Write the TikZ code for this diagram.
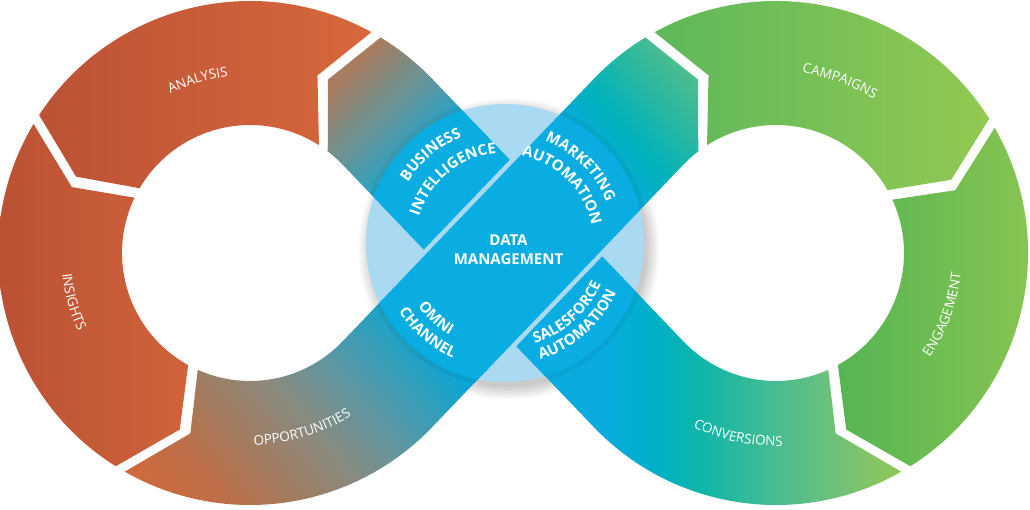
\documentclass[tikz,border=0pt]{standalone}
\usepackage{fontspec}
\setmainfont{Open Sans}
\usetikzlibrary{calc,decorations.text}

\definecolor{circlelight}{HTML}{A9DAF2}
\definecolor{cblue}{HTML}{0AADE2}
\definecolor{anaL}{HTML}{BC5235}
\definecolor{anaR}{HTML}{D7683C}
\definecolor{insL}{HTML}{B64E33}
\definecolor{insR}{HTML}{D0633A}
\definecolor{camL}{HTML}{5DB85A}
\definecolor{camR}{HTML}{93C952}
\definecolor{engL}{HTML}{55B553}
\definecolor{engR}{HTML}{8FC751}
% band A
\definecolor{a1}{HTML}{CD6A3D}
\definecolor{a2}{HTML}{BC6F48}
\definecolor{a3}{HTML}{A47A5C}
\definecolor{a4}{HTML}{8A8A7E}
\definecolor{a5}{HTML}{5C97A3}
\definecolor{a6}{HTML}{2AA0BF}
\definecolor{a7}{HTML}{0AA6D6}
\definecolor{a8}{HTML}{0AA9DC}
\definecolor{a9}{HTML}{00B2BC}
\definecolor{a10}{HTML}{2DB89E}
\definecolor{a11}{HTML}{5DBF86}
\definecolor{a12}{HTML}{78C278}
% band B
\definecolor{b1}{HTML}{0AA8DA}
\definecolor{b2}{HTML}{35A0BC}
\definecolor{b3}{HTML}{6A9396}
\definecolor{b4}{HTML}{84897E}
\definecolor{b5}{HTML}{A67C60}
\definecolor{b6}{HTML}{B07A5A}
% band C
\definecolor{c1}{HTML}{09ABDE}
\definecolor{c2}{HTML}{00B1C8}
\definecolor{c3}{HTML}{10B6A7}
\definecolor{c4}{HTML}{4DBD8F}
\definecolor{c5}{HTML}{7AC36F}
\definecolor{c6}{HTML}{8CC65A}

\pgfdeclarehorizontalshading{bandAshade}{100bp}{color(0bp)=(a1); color(28.5bp)=(a1); color(31.15bp)=(a2); color(33.35bp)=(a3); color(36.5bp)=(a4); color(39.55bp)=(a5); color(42.35bp)=(a6); color(44bp)=(a7); color(56bp)=(a8); color(58.25bp)=(a9); color(60.75bp)=(a10); color(63.5bp)=(a11); color(65.5bp)=(a12); color(100bp)=(a12)}
\pgfdeclarehorizontalshading{bandBshade}{100bp}{color(0bp)=(b1); color(56.5bp)=(b1); color(57.5bp)=(b2); color(59.5bp)=(b3); color(60.75bp)=(b4); color(62.25bp)=(b5); color(63.5bp)=(b6); color(100bp)=(b6)}
\pgfdeclarehorizontalshading{bandCshade}{100bp}{color(0bp)=(c1); color(54.5bp)=(c1); color(57bp)=(c2); color(59.5bp)=(c3); color(63.5bp)=(c4); color(67bp)=(c5); color(69bp)=(c6); color(100bp)=(c6)}

\newcommand\loopfont{\fontsize{13.5}{16}\selectfont}
\newcommand\bandfont{\fontsize{15}{19}\selectfont\bfseries}

\tikzset{
  looplabel/.style={decorate, decoration={text along path, text align=center, text color=white, text={|\loopfont|#1}}},
  bandlabel/.style={decorate, decoration={text along path, text align=center, text color=white, text={|\bandfont|#1}}},
  circleedge/.style={black, opacity=0.045, line width=5}
}

\begin{document}
\begin{tikzpicture}[x=1pt,y=1pt]
\useasboundingbox (0,0) rectangle (1030,509);
\fill[white] (0,0) rectangle (1030,509);

\coordinate (L) at (250,256);
\coordinate (R) at (776,256);
\coordinate (M) at (513,256);
\coordinate (C) at (505,266);

% shadow of the central circle
\foreach \i in {1,...,9}
  \fill[black, opacity=0.022] ($(C)+(4,-6)$) circle[radius=136+1.6*\i];
% central circle
\fill[circlelight] (C) circle[radius=139];

% ANALYSIS
\shade[left color=anaL, right color=anaR]
  ($(L)+(61.2:252)$) arc[start angle=61.2, end angle=146.8, radius=252]
  -- ($(L)+(156.3:190)$) -- ($(L)+(149.6:128)$)
  arc[start angle=149.6, end angle=57.4, radius=128]
  -- ($(L)+(69.2:190)$) -- cycle;
% INSIGHTS
\shade[left color=insL, right color=insR]
  ($(L)+(149.2:252)$) arc[start angle=149.2, end angle=237.8, radius=252]
  -- ($(L)+(248.3:190)$) -- ($(L)+(241.1:128)$)
  arc[start angle=241.1, end angle=154.4, radius=128]
  -- ($(L)+(159.7:190)$) -- cycle;
% CAMPAIGNS
\shade[left color=camL, right color=camR]
  ($(R)+(118.8:252)$) arc[start angle=118.8, end angle=32.2, radius=252]
  -- ($(R)+(22.7:190)$) -- ($(R)+(29.4:128)$)
  arc[start angle=29.4, end angle=122.6, radius=128]
  -- ($(R)+(110.8:190)$) -- cycle;
% ENGAGEMENT
\shade[left color=engL, right color=engR]
  ($(R)+(29.8:252)$) arc[start angle=29.8, end angle=-57.8, radius=252]
  -- ($(R)+(-68.3:190)$) -- ($(R)+(-61.1:128)$)
  arc[start angle=-61.1, end angle=24.6, radius=128]
  -- ($(R)+(19.3:190)$) -- cycle;

% band B : business intelligence
\begin{scope}
  \clip (509.5,349.3) -- ($(L)+(43.75:252)$) arc[start angle=43.75, end angle=58.8, radius=252]
    -- ($(L)+(65.8:190)$) -- ($(L)+(52.6:128)$) arc[start angle=52.6, end angle=43.75, radius=128]
    -- (423.7,259.6) -- cycle;
  \shade[shading=bandBshade, shading angle=135] ($(M)+(-500,-500)$) rectangle ($(M)+(500,500)$);
  \draw[circleedge] (C) circle[radius=141.5];
  \fill[cblue] (C) circle[radius=139];
\end{scope}

% band C : salesforce automation / conversions
\begin{scope}
  \clip (602.3,252.4) -- ($(R)+(223.75:128)$) arc[start angle=223.75, end angle=294.1, radius=128]
    -- ($(R)+(288.3:190)$) -- ($(R)+(299.8:252)$) arc[start angle=299.8, end angle=223.75, radius=252]
    -- (516.5,162.7) -- cycle;
  \shade[shading=bandCshade, shading angle=0] ($(M)+(-500,-500)$) rectangle ($(M)+(500,500)$);
  \draw[circleedge] (C) circle[radius=141.5];
  \fill[cblue] (C) circle[radius=139];
\end{scope}

% band A : opportunities / omni channel / data management / marketing automation
\begin{scope}
  \clip ($(L)+(240.2:252)$) arc[start angle=240.2, end angle=316.25, radius=252]
    -- ($(R)+(136.25:128)$) arc[start angle=136.25, end angle=127.4, radius=128]
    -- ($(R)+(114.2:190)$) -- ($(R)+(121.2:252)$)
    arc[start angle=121.2, end angle=136.25, radius=252]
    -- ($(L)+(316.25:128)$) arc[start angle=316.25, end angle=245.9, radius=128]
    -- ($(L)+(251.7:190)$) -- cycle;
  \shade[shading=bandAshade, shading angle=40] ($(M)+(-500,-500)$) rectangle ($(M)+(500,500)$);
  \draw[circleedge] (C) circle[radius=141.5];
  \fill[cblue] (C) circle[radius=139];
\end{scope}

% loop labels
\path[looplabel=ANALYSIS] ($(L)+(136.8:178)$) arc[start angle=136.8, end angle=76.8, radius=178];
\path[looplabel=INSIGHTS] ($(L)+(165.5:189)$) arc[start angle=165.5, end angle=225.5, radius=189];
\path[looplabel=OPPORTUNITIES] ($(L)+(251.5:192)$) arc[start angle=251.5, end angle=321.5, radius=192];
\path[looplabel=CAMPAIGNS] ($(R)+(99.6:182)$) arc[start angle=99.6, end angle=39.6, radius=182];
\path[looplabel=ENGAGEMENT] ($(R)+(-50.3:186)$) arc[start angle=-50.3, end angle=9.7, radius=186];
\path[looplabel=CONVERSIONS] ($(R)+(223.3:193)$) arc[start angle=223.3, end angle=293.3, radius=193];

% band labels
\path[bandlabel=BUSINESS] ($(C)+(175:114.5)$) arc[start angle=175, end angle=85, radius=114.5];
\path[bandlabel=INTELLIGENCE] ($(C)+(174:90)$) arc[start angle=174, end angle=84, radius=90];
\path[bandlabel=MARKETING] ($(C)+(90.3:109.5)$) arc[start angle=90.3, end angle=0.3, radius=109.5];
\path[bandlabel=AUTOMATION] ($(C)+(90.4:88.5)$) arc[start angle=90.4, end angle=0.4, radius=88.5];
\path[bandlabel=OMNI] ($(C)+(182.5:107.5)$) arc[start angle=182.5, end angle=272.5, radius=107.5];
\path[bandlabel=CHANNEL] ($(C)+(184.3:126.5)$) arc[start angle=184.3, end angle=274.3, radius=126.5];
\path[bandlabel=SALESFORCE] ($(C)+(266.7:104.5)$) arc[start angle=266.7, end angle=356.7, radius=104.5];
\path[bandlabel=AUTOMATION] ($(C)+(266.5:121.5)$) arc[start angle=266.5, end angle=356.5, radius=121.5];

\node[text=white, font=\bandfont, align=center, inner sep=0] (dm) at (508.5,259.5) {DATA\\MANAGEMENT};
\end{tikzpicture}
\end{document}
